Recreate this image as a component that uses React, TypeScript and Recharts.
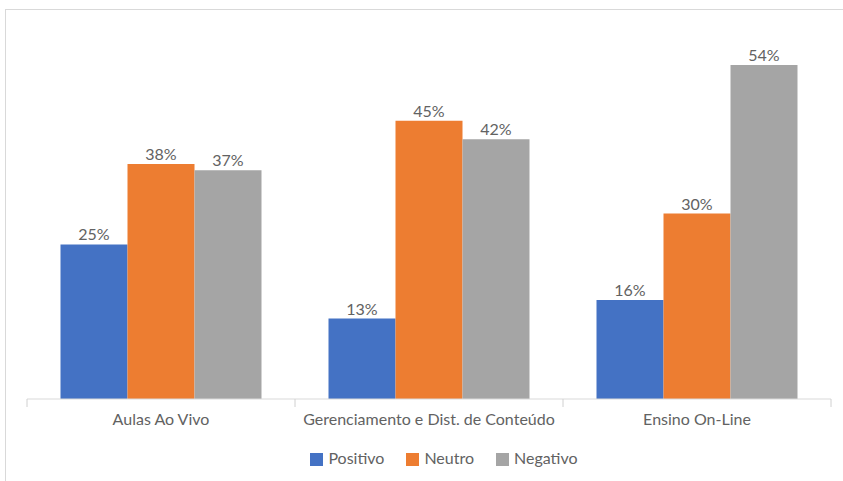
import { BarChart, Bar, XAxis, YAxis, Legend, LabelList } from 'recharts';

const categories = ['Aulas Ao Vivo', 'Gerenciamento e Dist. de Conteúdo', 'Ensino On-Line'];
const seriesNames = ['Positivo', 'Neutro', 'Negativo'];
const positivo = [25, 13, 16];
const neutro = [38, 45, 30];
const negativo = [37, 42, 54];

const data = categories.map((name, i) => ({
    name,
    Positivo: positivo[i],
    Neutro: neutro[i],
    Negativo: negativo[i],
}));

const font = 'Lato, "Open Sans", sans-serif';
const textColor = '#626262';
const lineColor = '#d0d0d0';

// category label plus the boundary tick marks between categories (Excel style)
function CategoryTick(props: any) {
    const { x, y, payload, index } = props;
    const half = payload.offset || 0;
    return (
        <g>
            <line x1={x - half} x2={x - half} y1={y} y2={y + 8} stroke={lineColor} />
            {index === categories.length - 1 && (
                <line x1={x + half} x2={x + half} y1={y} y2={y + 8} stroke={lineColor} />
            )}
            <text x={x} y={y + 26} textAnchor="middle" fill={textColor} fontSize={16} fontFamily={font}>
                {payload.value}
            </text>
        </g>
    );
}

export default function App() {
    return (
        <div style={{ position: 'absolute', left: 0, top: 0, width: 843, height: 481, background: '#fff', fontFamily: font }}>
            {/* chart frame, only top and left edges visible */}
            <div style={{ position: 'absolute', left: 5, top: 9, right: 0, bottom: 0, borderTop: '1px solid #d9d9d9', borderLeft: '1px solid #d9d9d9' }} />
            <BarChart
                width={843}
                height={481}
                data={data}
                barCategoryGap="12.5%"
                barGap={0}
                margin={{ top: 28, right: 12, left: 27, bottom: 33 }}
            >
                <XAxis
                    dataKey="name"
                    tickLine={false}
                    tickSize={0}
                    tickMargin={0}
                    axisLine={{ stroke: '#d9d9d9' }}
                    tick={<CategoryTick />}
                    height={30}
                    interval={0}
                />
                <YAxis hide domain={[0, 60]} />
                <Legend
                    verticalAlign="bottom"
                    iconType="square"
                    iconSize={13}
                    itemSorter={(item) => seriesNames.indexOf(String(item.value))}
                    wrapperStyle={{ fontSize: 16, fontFamily: font, bottom: 14, paddingLeft: 26 }}
                    formatter={(v) => <span style={{ color: textColor, marginLeft: 1, marginRight: 12 }}>{v}</span>}
                />
                <Bar dataKey="Positivo" fill="#4472C4" isAnimationActive={false}>
                    <LabelList dataKey="Positivo" position="top" offset={4} formatter={(v) => v + '%'} fill={textColor} fontSize={16} fontFamily={font} />
                </Bar>
                <Bar dataKey="Neutro" fill="#ED7D31" isAnimationActive={false}>
                    <LabelList dataKey="Neutro" position="top" offset={4} formatter={(v) => v + '%'} fill={textColor} fontSize={16} fontFamily={font} />
                </Bar>
                <Bar dataKey="Negativo" fill="#A5A5A5" isAnimationActive={false}>
                    <LabelList dataKey="Negativo" position="top" offset={4} formatter={(v) => v + '%'} fill={textColor} fontSize={16} fontFamily={font} />
                </Bar>
            </BarChart>
        </div>
    );
}
